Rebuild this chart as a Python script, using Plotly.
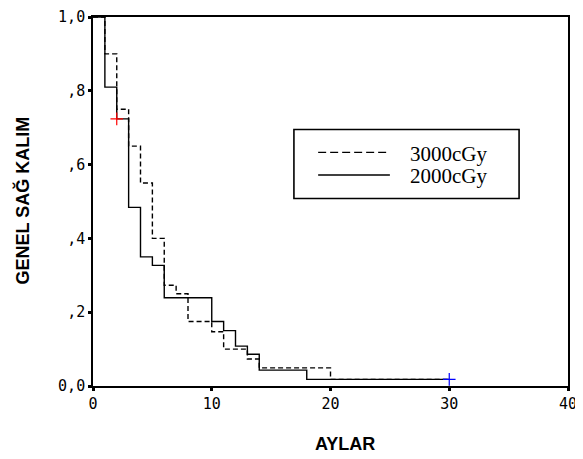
import plotly.graph_objects as go

# 2000cGy (solid)
t_2000 = [0, 1, 2, 3, 4, 5, 6, 10, 11, 12, 13, 14, 18, 30]
s_2000 = [1.0, 0.81, 0.724, 0.484, 0.35, 0.327, 0.239, 0.175, 0.15, 0.108, 0.086, 0.043, 0.018, 0.018]
# 3000cGy (dashed)
t_3000 = [0, 1, 2, 3, 4, 5, 6, 7, 8, 10, 11, 13, 14, 20, 30]
s_3000 = [1.0, 0.90, 0.75, 0.65, 0.55, 0.40, 0.273, 0.25, 0.175, 0.147, 0.10, 0.073, 0.049, 0.018, 0.018]
# censored marks
cens_x = [2, 30]
cens_y = [0.724, 0.018]
cens_col = ["red", "blue"]

x_ticks = [0, 10, 20, 30, 40]
y_ticks = [0, 0.2, 0.4, 0.6, 0.8, 1.0]
y_labels = ["0,0", ",2", ",4", ",6", ",8", "1,0"]

fig = go.Figure()
fig.add_trace(go.Scatter(x=t_3000, y=s_3000, mode="lines", line=dict(shape="hv", color="black", width=1.4, dash="5px,3px"),
                         name="3000cGy", showlegend=False))
fig.add_trace(go.Scatter(x=t_2000, y=s_2000, mode="lines", line=dict(shape="hv", color="black", width=1.4),
                         name="2000cGy", showlegend=False))
fig.add_trace(go.Scatter(x=cens_x, y=cens_y, mode="markers",
                         marker=dict(symbol="cross-thin", size=9, line=dict(color=cens_col, width=1.2)),
                         showlegend=False))

# legend box (manual)
fig.add_shape(type="rect", xref="paper", yref="paper", x0=0.423, x1=0.897, y0=0.508, y1=0.695,
              line=dict(color="black", width=1.6), fillcolor="white", layer="below")
fig.add_shape(type="line", xref="paper", yref="paper", x0=0.474, x1=0.625, y0=0.633, y1=0.633,
              line=dict(color="black", width=1.4, dash="8px,4px"))
fig.add_shape(type="line", xref="paper", yref="paper", x0=0.474, x1=0.625, y0=0.572, y1=0.572,
              line=dict(color="black", width=1.6))
for lbl, yy in [("3000cGy", 0.628), ("2000cGy", 0.569)]:
    fig.add_annotation(xref="paper", yref="paper", x=0.663, y=yy, text=lbl, showarrow=False,
                       xanchor="left", yanchor="middle",
                       font=dict(family="Liberation Serif", size=21, color="black"))

fig.add_annotation(xref="paper", yref="paper", x=0.530, y=-0.158, text="<b>AYLAR</b>", showarrow=False,
                   xanchor="center", yanchor="middle", font=dict(family="Liberation Sans", size=18, color="black"))
fig.add_annotation(xref="paper", yref="paper", x=-0.148, y=0.502, text="<b>GENEL SAĞ KALIM</b>", showarrow=False,
                   textangle=-90, xanchor="center", yanchor="middle",
                   font=dict(family="Liberation Sans", size=18, color="black"))

fig.update_layout(
    width=583, height=459, autosize=False,
    margin=dict(l=85, r=23, t=9, b=81, pad=0),
    paper_bgcolor="white", plot_bgcolor="white",
    xaxis=dict(range=[0, 40], tickvals=x_ticks, ticks="outside", ticklen=3, tickwidth=3, tickcolor="black",
               showgrid=False, zeroline=False, showline=True, linecolor="black", linewidth=1.6, mirror=True,
               automargin=False, ticklabeloverflow="allow",
               tickfont=dict(family="DejaVu Sans Mono", size=15, color="black")),
    yaxis=dict(range=[0, 1.0], tickvals=y_ticks, ticktext=y_labels, ticks="outside", ticklen=3, tickwidth=3,
               tickcolor="black", showgrid=False, zeroline=False, showline=True, linecolor="black", linewidth=1.6,
               mirror=True, automargin=False, ticklabeloverflow="allow",
               tickfont=dict(family="DejaVu Sans Mono", size=15, color="black")),
)

fig.write_html("out.html")
